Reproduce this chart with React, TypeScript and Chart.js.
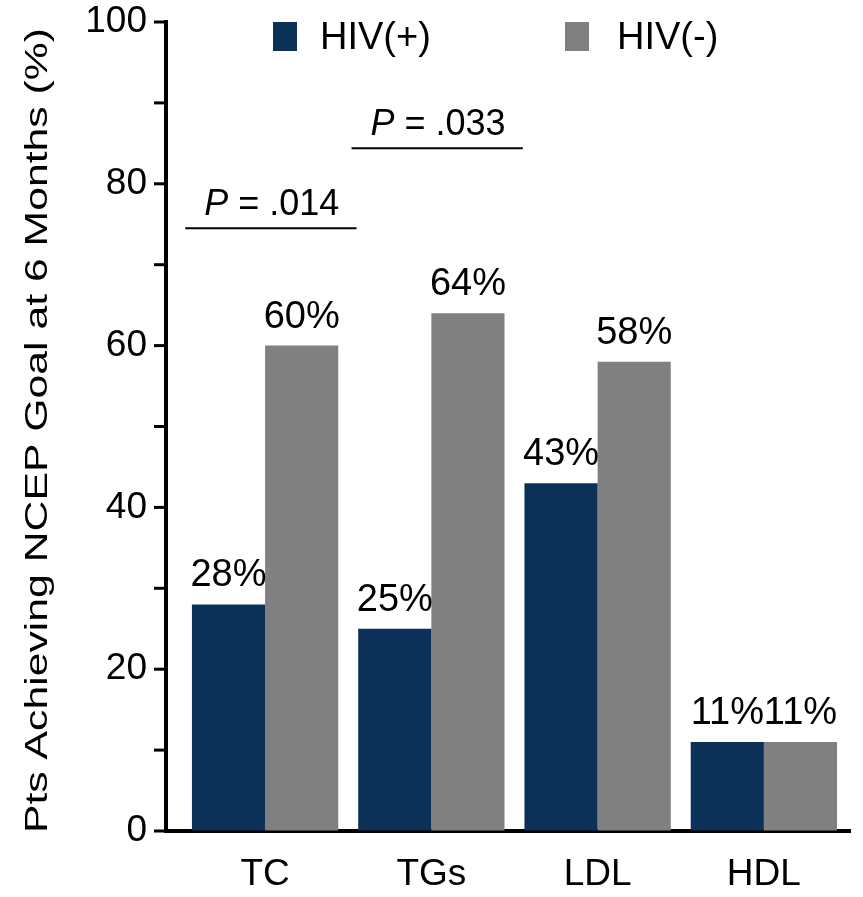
import React, { useEffect, useRef } from 'react';
import { Chart, registerables } from 'chart.js';

Chart.register(...registerables);

// Lipid goal attainment at 6 months, HIV(+) vs HIV(-) patients
const categories = ['TC', 'TGs', 'LDL', 'HDL'];
const seriesNames = ['HIV(+)', 'HIV(-)'];
const hivPositive = [28, 25, 43, 11];
const hivNegative = [60, 64, 58, 11];
const yTickLabels = [0, 20, 40, 60, 80, 100];
const pValueTexts = ['.014', '.033'];
const pValueCategories = [0, 1];
const pValueLevels = [74.5, 84.4];
const yTitle = 'Pts Achieving NCEP Goal at 6 Months (%)';

const NAVY = '#0c3158';
const GREY = '#808080';
const FONT = '"Liberation Sans", Arial, Helvetica, sans-serif';

const overlayPlugin = {
  id: 'overlay',
  afterDatasetsDraw(chart: any) {
    const { ctx, chartArea, scales } = chart;
    const xs = scales.x;
    const ys = scales.y;
    ctx.save();
    ctx.fillStyle = '#000';

    // value labels above each bar
    ctx.font = `38px ${FONT}`;
    ctx.textAlign = 'center';
    ctx.textBaseline = 'alphabetic';
    chart.data.datasets.forEach((ds: any, di: number) => {
      const meta = chart.getDatasetMeta(di);
      meta.data.forEach((bar: any, i: number) => {
        const v = ds.data[i].y;
        ctx.fillText(`${v}%`, bar.x, bar.y - 18);
      });
    });

    // significance brackets
    pValueTexts.forEach((txt, i) => {
      const c = pValueCategories[i];
      const x0 = xs.getPixelForValue(c - 0.48);
      const x1 = xs.getPixelForValue(c + 0.55);
      const y = ys.getPixelForValue(pValueLevels[i]);
      ctx.strokeStyle = '#000';
      ctx.lineWidth = 2;
      ctx.beginPath();
      ctx.moveTo(x0, y);
      ctx.lineTo(x1, y);
      ctx.stroke();

      const italic = `italic 36px ${FONT}`;
      const normal = `36px ${FONT}`;
      const rest = ` = ${txt}`;
      ctx.font = italic;
      const wP = ctx.measureText('P').width;
      ctx.font = normal;
      const wR = ctx.measureText(rest).width;
      const cx = xs.getPixelForValue(c + 0.04);
      const left = cx - (wP + wR) / 2;
      ctx.textAlign = 'left';
      ctx.font = italic;
      ctx.fillText('P', left, y - 13);
      ctx.font = normal;
      ctx.fillText(rest, left + wP, y - 13);
    });

    // legend inside the plot area
    ctx.font = `38px ${FONT}`;
    ctx.textAlign = 'left';
    ctx.textBaseline = 'middle';
    chart.data.datasets.forEach((ds: any, di: number) => {
      const bx = chartArea.left + 107 + di * 292;
      const by = chartArea.top;
      ctx.fillStyle = ds.backgroundColor;
      ctx.fillRect(bx, by, 24, 29);
      ctx.fillStyle = '#000';
      ctx.fillText(ds.label, bx + 47 + di * 5, by + 17);
    });

    ctx.restore();
  },
  afterDraw(chart: any) {
    const { ctx, chartArea } = chart;
    const ys = chart.scales.y;
    ctx.save();

    // outward tick marks on the value axis (major and minor)
    ctx.strokeStyle = '#000';
    ctx.lineWidth = 3;
    ys.ticks.forEach((t: any) => {
      const y = ys.getPixelForValue(t.value);
      ctx.beginPath();
      ctx.moveTo(chartArea.left - 12, y);
      ctx.lineTo(chartArea.left, y);
      ctx.stroke();
    });

    // rotated axis title
    ctx.font = `31px ${FONT}`;
    const w = ctx.measureText(yTitle).width;
    const top = 28;
    const bottom = 833;
    const stretch = (bottom - top) / w;
    ctx.translate(47, (top + bottom) / 2);
    ctx.rotate(-Math.PI / 2);
    ctx.scale(stretch, 1);
    ctx.fillStyle = '#000';
    ctx.textAlign = 'center';
    ctx.textBaseline = 'alphabetic';
    ctx.fillText(yTitle, 0, 0);
    ctx.restore();
  },
};

export default function App() {
  const canvasRef = useRef<HTMLCanvasElement | null>(null);

  useEffect(() => {
    document.body.style.margin = '0';
    const canvas = canvasRef.current;
    if (!canvas) return;
    const chart = new Chart(canvas, {
      type: 'bar',
      data: {
        datasets: [
          {
            label: seriesNames[0],
            data: hivPositive.map((v, i) => ({ x: i, y: v })),
            backgroundColor: NAVY,
          },
          {
            label: seriesNames[1],
            data: hivNegative.map((v, i) => ({ x: i, y: v })),
            backgroundColor: GREY,
          },
        ],
      },
      options: {
        responsive: false,
        animation: false,
        devicePixelRatio: 1,
        layout: { padding: { top: 22, right: 13, left: 0, bottom: 0 } },
        datasets: {
          bar: { categoryPercentage: 0.88, barPercentage: 1, borderWidth: 0 },
        },
        plugins: {
          legend: { display: false },
          tooltip: { enabled: false },
          title: { display: false },
        },
        scales: {
          x: {
            type: 'linear',
            min: -0.596,
            max: 3.518,
            offset: false,
            afterFit: (s: any) => {
              s.height = 66;
              s.paddingLeft = 0;
              s.paddingRight = 0;
            },
            grid: { display: true, offset: false, drawOnChartArea: false, drawTicks: false },
            border: { display: true, color: '#000', width: 4 },
            ticks: {
              stepSize: 1,
              includeBounds: false,
              autoSkip: false,
              padding: 22,
              color: '#000',
              font: { family: FONT, size: 37 },
              callback: (v: any) => (Number.isInteger(v) && categories[v] ? categories[v] : ''),
            },
          },
          y: {
            min: 0,
            max: 100,
            afterFit: (s: any) => {
              s.width = 166;
              s.paddingTop = 0;
              s.paddingBottom = 0;
            },
            grid: {
              display: true,
              drawOnChartArea: false,
              drawTicks: true,
              tickLength: 12,
              tickColor: 'rgba(0,0,0,0)',
            },
            border: { display: true, color: '#000', width: 4 },
            ticks: {
              stepSize: 10,
              autoSkip: false,
              padding: 7,
              color: '#000',
              font: { family: FONT, size: 37, lineHeight: 1 },
              callback: (v: any) => (yTickLabels.includes(v) ? String(v) : ''),
            },
          },
        },
      },
      plugins: [overlayPlugin],
    } as any);
    return () => chart.destroy();
  }, []);

  return (
    <div style={{ width: 863, height: 897, background: '#fff' }}>
      <canvas ref={canvasRef} width={863} height={897} style={{ display: 'block' }} />
    </div>
  );
}
